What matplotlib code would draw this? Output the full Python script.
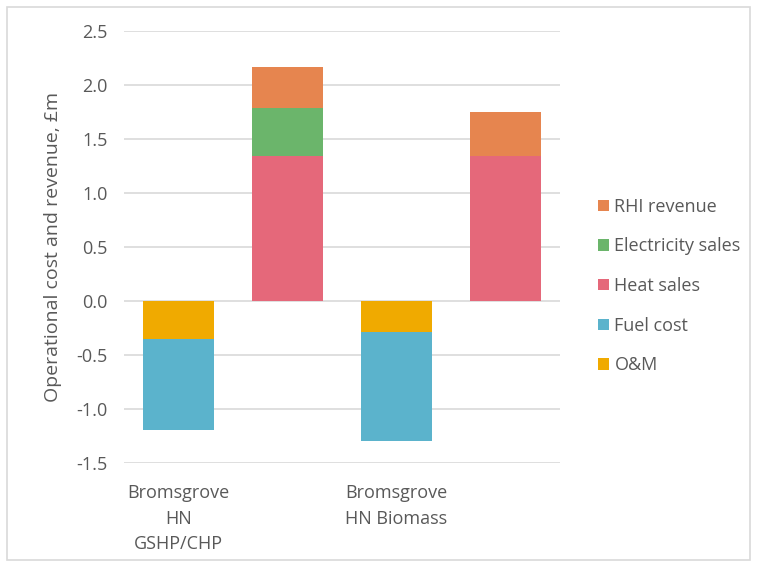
import matplotlib
matplotlib.use("Agg")
import matplotlib.pyplot as plt
import numpy as np
from matplotlib.patches import Rectangle

plt.rcParams['font.family'] = ['Open Sans', 'DejaVu Sans']

# four columns: costs and revenue for each scheme side by side
labels = ["Bromsgrove\nHN\nGSHP/CHP", "", "Bromsgrove\nHN Biomass", ""]
om = [-0.35, 0, -0.29, 0]
fuel = [-0.84, 0, -1.01, 0]
heat = [0, 1.34, 0, 1.34]
elec = [0, 0.45, 0, 0]
rhi = [0, 0.38, 0, 0.41]

c_om = "#F0AA00"
c_fuel = "#5BB3CC"
c_heat = "#E5687A"
c_elec = "#6BB56B"
c_rhi = "#E6854F"
txt = "#595959"

fig = plt.figure(figsize=(7.58, 5.67), dpi=100)
ax = fig.add_axes([124/758, 1-463/567, 436/758, 432/567])

x = np.arange(len(labels))
w = 0.66
ax.bar(x, om, w, color=c_om, label="O&M", zorder=2)
ax.bar(x, fuel, w, bottom=om, color=c_fuel, label="Fuel cost", zorder=2)
ax.bar(x, heat, w, color=c_heat, label="Heat sales", zorder=2)
ax.bar(x, elec, w, bottom=heat, color=c_elec, label="Electricity sales", zorder=2)
ax.bar(x, rhi, w, bottom=np.add(heat, elec), color=c_rhi, label="RHI revenue", zorder=2)

ax.set_xlim(-0.5, 3.5)
ax.set_ylim(-1.5, 2.5)
ax.set_yticks(np.arange(-1.5, 2.51, 0.5))
ax.set_yticklabels([f"{v:.1f}" for v in np.arange(-1.5, 2.51, 0.5)])
ax.set_xticks(x)
ax.set_xticklabels(labels, linespacing=1.55)
ax.yaxis.grid(True, color="#D9D9D9", lw=1.2, zorder=0)
for s in ax.spines.values():
    s.set_visible(False)
ax.tick_params(length=0, labelsize=13, colors=txt)
ax.tick_params(axis="x", pad=15)
ax.tick_params(axis="y", pad=12)
ax.set_ylabel("Operational cost and revenue, £m", fontsize=14, color=txt, labelpad=10)

h, l = ax.get_legend_handles_labels()
leg = fig.legend(h[::-1], l[::-1], loc="center left", bbox_to_anchor=(582/758, 1-286/567),
                 frameon=False, fontsize=13, labelcolor=txt, handlelength=0.6, handleheight=0.6,
                 handletextpad=0.3, labelspacing=1.2)

# light frame round the whole chart
fig.patches.append(Rectangle((7/758, 7/567), 743/758, 553/567, transform=fig.transFigure,
                             fill=False, edgecolor="#D9D9D9", lw=1.2))

fig.savefig("out.png", dpi=100, facecolor="white")
